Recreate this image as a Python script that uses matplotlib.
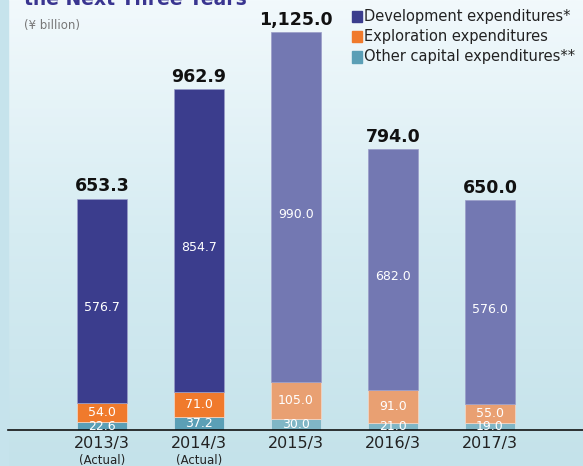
import matplotlib.pyplot as plt
import numpy as np
from matplotlib.colors import LinearSegmentedColormap

# values (¥ billion)
years = ['2013/3', '2014/3', '2015/3', '2016/3', '2017/3']
actual = [True, True, False, False, False]
other = [22.6, 37.2, 30.0, 21.0, 19.0]
exploration = [54.0, 71.0, 105.0, 91.0, 55.0]
development = [576.7, 854.7, 990.0, 682.0, 576.0]
totals = [653.3, 962.9, 1125.0, 794.0, 650.0]

dev_c = ['#3b3d8d', '#3b3d8d', '#7378b2', '#7378b2', '#7378b2']
exp_c = ['#f07a2c', '#f07a2c', '#e9a072', '#e9a072', '#e9a072']
oth_c = ['#5b9fb6', '#5b9fb6', '#80b6c6', '#80b6c6', '#80b6c6']

W, H = 583, 466
fig = plt.figure(figsize=(W / 100, H / 100), dpi=100)

# background gradient
bg = fig.add_axes([0, 0, 1, 1], zorder=-2)
cmap = LinearSegmentedColormap.from_list('bg', ['#c4e2ea', '#d6ecf2', '#f2f9fc'])
grad = np.linspace(0, 1, 256).reshape(-1, 1)
bg.imshow(grad, aspect='auto', cmap=cmap, origin='lower', extent=[0, 1, 0, 1])
bg.axvspan(0, 8 / W, color='#c6e3ec')
bg.set_xlim(0, 1)
bg.set_ylim(0, 1)
bg.axis('off')

base_px = 430
ax = fig.add_axes([8 / W, (H - base_px) / H, 1 - 8 / W, base_px / H])
ax.patch.set_visible(False)
px_per_unit = 0.3537
ax.set_ylim(0, base_px / px_per_unit)
ax.set_xlim((8 - 102) / 97, (583 - 102) / 97)

x = np.arange(len(years))
w = 0.515
bottom2 = np.array(other) + np.array(exploration)
ax.bar(x, other, w, color=oth_c, edgecolor='#d8e8f0', linewidth=0.5)
ax.bar(x, exploration, w, bottom=other, color=exp_c, edgecolor='#f5d8c8', linewidth=0.5)
ax.bar(x, development, w, bottom=bottom2, color=dev_c, edgecolor='#9a9cc8', linewidth=0.5)

for i in range(len(years)):
    ax.text(x[i], other[i] / 2, f'{other[i]:.1f}', ha='center', va='center',
            color='white', fontsize=9)
    ax.text(x[i], other[i] + exploration[i] / 2, f'{exploration[i]:.1f}',
            ha='center', va='center', color='white', fontsize=9)
    ax.text(x[i], bottom2[i] + development[i] / 2 - 20, f'{development[i]:.1f}',
            ha='center', va='center', color='white', fontsize=9)
    ax.text(x[i], totals[i] + 10, f'{totals[i]:,.1f}', ha='center', va='bottom',
            color='#111111', fontsize=12.5, fontweight='bold')
    if actual[i]:
        ax.text(x[i], -0.07, '(Actual)', transform=ax.get_xaxis_transform(),
                ha='center', va='center', fontsize=8.5, color='#222222')

ax.set_xticks(x)
ax.set_xticklabels(years, fontsize=11.5, color='#222222')
ax.tick_params(axis='x', length=0, pad=4)
ax.set_yticks([])
for s in ['top', 'right', 'left']:
    ax.spines[s].set_visible(False)
ax.spines['bottom'].set_color('#111111')
ax.spines['bottom'].set_linewidth(1.2)

# title (cut at top, as in the source) and unit
fig.text(24 / W, 1 + 1 / H, 'the Next Three Years', ha='left', va='center',
         fontsize=13.5, fontweight='bold', color='#3a3590')
fig.text(24 / W, 1 - 26 / H, '(¥ billion)', ha='left', va='center',
         fontsize=8.5, color='#777777')

# legend
leg_items = [('Development expenditures*', '#3b3d8d'),
             ('Exploration expenditures', '#f07a2c'),
             ('Other capital expenditures**', '#5b9fb6')]
for k, (lab, c) in enumerate(leg_items):
    yy = 1 - (17 + 20 * k) / H
    fig.patches.append(plt.Rectangle((352 / W, yy - 5.5 / H), 10 / W, 11 / H,
                                     transform=fig.transFigure, color=c))
    fig.text(364 / W, yy, lab, ha='left', va='center', fontsize=10.5,
             color='#222222')

fig.savefig('out.png', dpi=100)
